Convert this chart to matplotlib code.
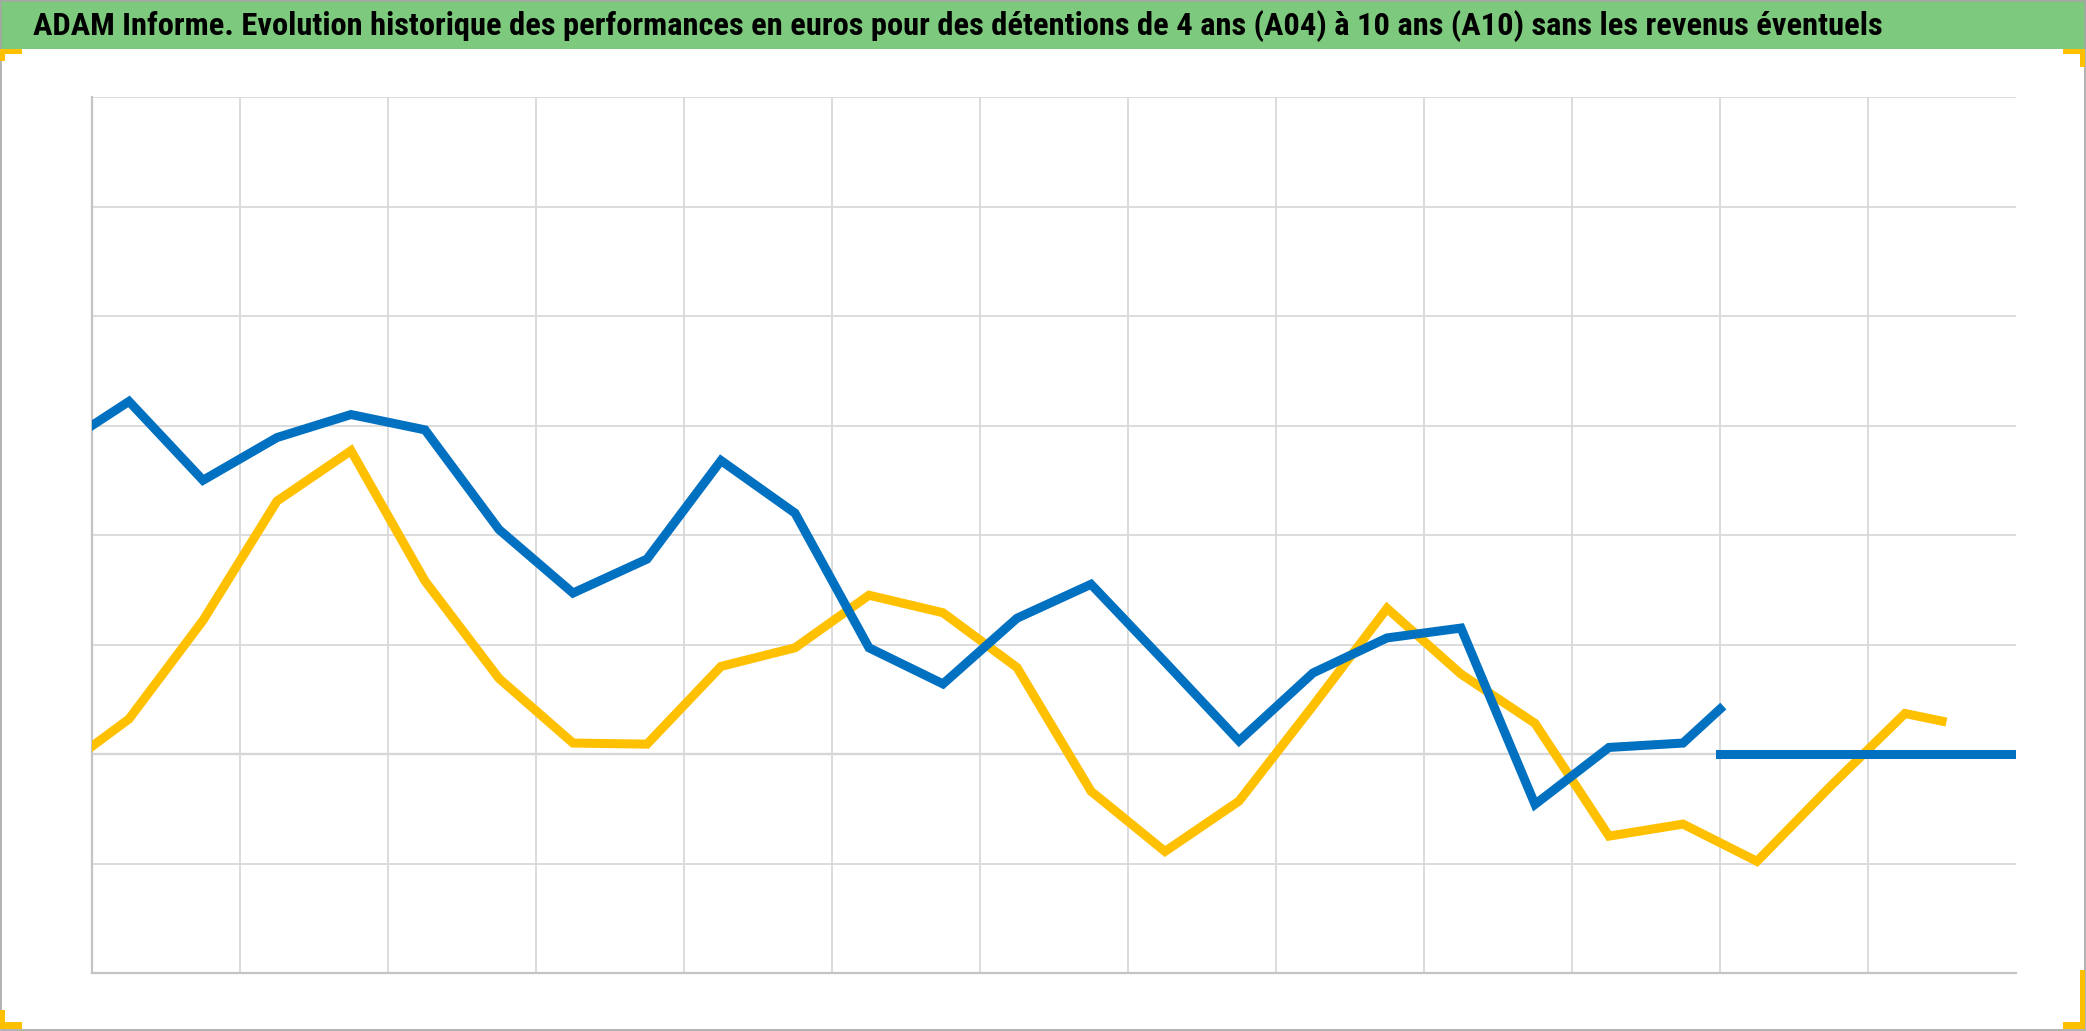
import matplotlib
matplotlib.use('Agg')
import matplotlib.pyplot as plt
from matplotlib import font_manager
from matplotlib.patches import Rectangle

# Values (x in grid columns, y in grid rows, 0 = zero line)
blue_x = [0, 0.25, 0.75, 1.25, 1.75, 2.25, 2.75, 3.25, 3.75, 4.25, 4.75, 5.25,
          5.75, 6.25, 6.75, 7.25, 7.75, 8.25, 8.75, 9.25, 9.75, 10.25, 10.75, 11.0]
blue_y = [3.0, 3.22, 2.50, 2.89, 3.10, 2.96, 2.05, 1.47, 1.78, 2.68, 2.20, 0.97,
          0.64, 1.24, 1.55, 0.84, 0.12, 0.74, 1.06, 1.15, -0.46, 0.06, 0.10, 0.41]
blue_flat_x = [11.0, 13.0]
blue_flat_y = [0, 0]

yellow_x = [0, 0.25, 0.75, 1.25, 1.75, 2.25, 2.75, 3.25, 3.75, 4.25, 4.75, 5.25,
            5.75, 6.25, 6.75, 7.25, 7.75, 8.25, 8.75, 9.25, 9.75, 10.25, 10.75,
            11.25, 11.75, 12.25, 12.5]
yellow_y = [0.07, 0.32, 1.22, 2.31, 2.77, 1.58, 0.69, 0.10, 0.09, 0.80, 0.97, 1.45,
            1.29, 0.79, -0.34, -0.89, -0.43, 0.44, 1.33, 0.73, 0.28, -0.75, -0.64,
            -0.98, -0.29, 0.37, 0.30]

title = ("ADAM Informe. Evolution historique des performances en euros pour des "
         "détentions de 4 ans (A04) à 10 ans (A10) sans les revenus éventuels")

BLUE = '#0070C0'
YELLOW = '#FFC000'
GREEN = '#7DC97D'
W, H = 2086, 1031

# pick a narrow font for the title if one is around (Calibri-like look)
entries = font_manager.fontManager.ttflist
names = {f.name for f in entries}
title_family, title_stretch = 'Lato', 'normal'
for n in ['Liberation Sans Narrow', 'Roboto Condensed', 'Open Sans Condensed',
          'Noto Sans Condensed', 'Noto Sans SemiCondensed', 'DejaVu Sans Condensed']:
    if n in names:
        title_family = n
        break
else:
    narrow = sorted(n for n in names if 'Narrow' in n or 'Condensed' in n)
    if narrow:
        title_family = narrow[0]
    else:
        for f in entries:
            if f.name in ('Noto Sans', 'Open Sans', 'Roboto') and 'condensed' in str(f.stretch):
                title_family, title_stretch = f.name, 'condensed'
                break

fig = plt.figure(figsize=(W / 100, H / 100), dpi=100)


def fx(px):
    return px / W


def fy(py):
    # py measured from the top of the image
    return 1 - py / H


ax = fig.add_axes([fx(92), fy(973), fx(2016) - fx(92), fy(97) - fy(973)])

ax.plot(yellow_x, yellow_y, color=YELLOW, lw=6.5, solid_joinstyle='miter', zorder=3)
ax.plot(blue_x, blue_y, color=BLUE, lw=6.5, solid_joinstyle='miter', zorder=4)
ax.plot(blue_flat_x, blue_flat_y, color=BLUE, lw=6.5, zorder=4)

ax.set_xlim(0, 13)
ax.set_ylim(-2, 6)
ax.set_xticks(range(0, 13))
ax.set_yticks(range(-2, 7))
ax.tick_params(length=0, labelleft=False, labelbottom=False)
ax.grid(True, color='#D9D9D9', lw=1.3, zorder=0)
ax.axhline(0, color='#BFBFBF', lw=1.6, zorder=1)
for side in ['top', 'right']:
    ax.spines[side].set_visible(False)
for side in ['left', 'bottom']:
    ax.spines[side].set_color('#C4C4C4')
    ax.spines[side].set_linewidth(1.6)

# title bar
fig.patches.append(Rectangle((0, fy(49)), 1, fy(0) - fy(49), transform=fig.transFigure,
                             facecolor=GREEN, edgecolor='none', zorder=0))
t = fig.text(fx(33), fy(26), title, ha='left', va='center', fontweight='bold',
             family=[title_family, 'DejaVu Sans'], fontstretch=title_stretch,
             fontsize=20, color='black')
fig.canvas.draw()
bb = t.get_window_extent()
t.set_fontsize(20 * 1845 / bb.width)

# outer frame
fig.patches.append(Rectangle((fx(0.5), fy(1030)), fx(2085) - fx(0.5), fy(1) - fy(1030),
                             transform=fig.transFigure, facecolor='none',
                             edgecolor='#A6A6A6', lw=1.2, zorder=5))

# orange corner marks
corners = [
    (0, 49, 22, 5), (0, 49, 5, 12),
    (2063, 49, 22, 5), (2080, 49, 5, 18),
    (0, 1022, 22, 7), (0, 1010, 5, 19),
    (2063, 1022, 22, 7), (2080, 970, 5, 59),
]
for x0, y0, w, h in corners:
    fig.patches.append(Rectangle((fx(x0), fy(y0 + h)), fx(w), h / H,
                                 transform=fig.transFigure, facecolor=YELLOW,
                                 edgecolor='none', zorder=6))

fig.savefig('out.png', dpi=100)
